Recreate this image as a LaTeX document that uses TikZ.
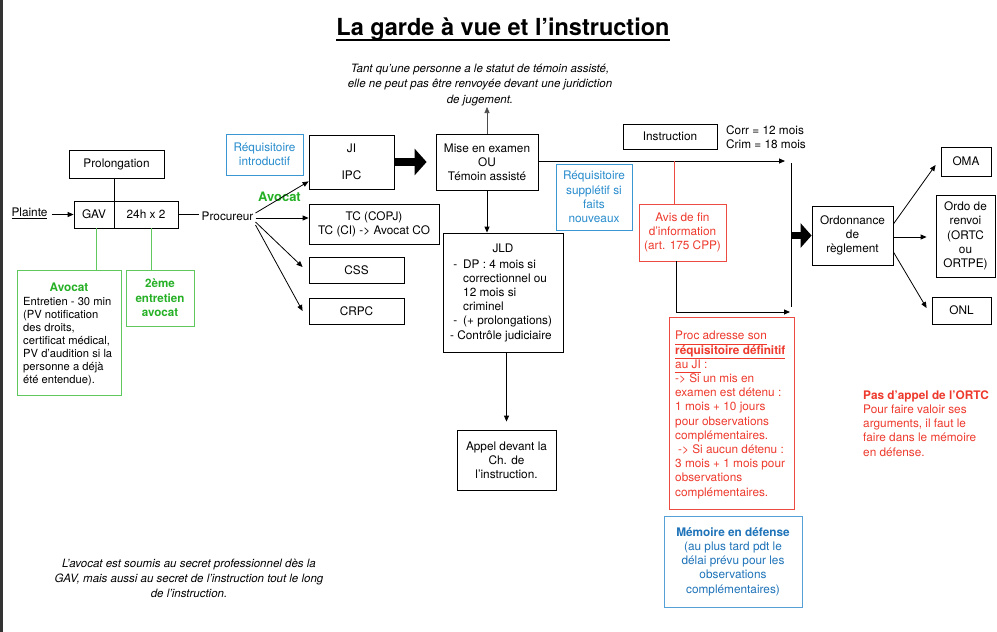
\documentclass[tikz,border=0pt]{standalone}
\usepackage{fontspec}
\setmainfont{TeX Gyre Heros}
\usetikzlibrary{arrows.meta,calc}
\definecolor{gtxt}{RGB}{38,176,38}
\definecolor{gline}{RGB}{95,200,95}
\definecolor{btxt}{RGB}{40,140,205}
\definecolor{bline}{RGB}{60,150,210}
\definecolor{btxtb}{RGB}{30,115,185}
\definecolor{blineb}{RGB}{85,160,215}
\definecolor{rtxt}{RGB}{238,58,45}
\definecolor{rline}{RGB}{235,75,65}
\newcommand\ulx[1]{\underline{#1\vphantom{g}}}
\begin{document}
\begin{tikzpicture}[x=1pt,y=-1pt, font=\fontsize{11.8}{14.2}\selectfont,
  bx/.style={draw=black, line width=0.8pt, inner sep=0pt, align=center},
  arr/.style={-{Triangle[length=6pt,width=5pt]}, line width=0.8pt},
  bigarr/.style={-{Triangle[length=12pt,width=26pt]}, line width=8pt},
  bigarrb/.style={-{Triangle[length=11pt,width=24pt]}, line width=7pt},
  ]
\useasboundingbox (0,0) rectangle (997,632);
\fill[white] (0,0) rectangle (997,632);
\fill[black!80] (0,0) rectangle (3,632);

% title
\node[font=\bfseries\fontsize{23.5}{28}\selectfont, anchor=base, inner sep=0] (title) at (503,35) {La garde à vue et l’instruction};
\draw[line width=1.8pt] ([yshift=-5pt]title.base west) -- ([yshift=-5pt]title.base east);

% top note
\node[font=\itshape\fontsize{11.5}{15.5}\selectfont, align=center, inner sep=0] (note1) at (480,85) {Tant qu’une personne a le statut de témoin assisté,\\elle ne peut pas être renvoyée devant une juridiction\\de jugement.};

% left part
\node[bx, minimum width=95pt, minimum height=28pt] (prol) at (116.5,164) {Prolongation};
\node[bx, minimum width=40pt, minimum height=27pt] (gav) at (94,214.5) {GAV};
\node[bx, minimum width=64pt, minimum height=27pt] (h24) at (146,214.5) {24h x 2};
\node[inner sep=1pt] (plainte) at (29.5,213) {\underline{Plainte}};
\draw[arr] ([xshift=3pt]plainte.east |- gav.west) -- (gav.west);
\draw[line width=0.8pt] (gav.north east |- prol.south) -- (gav.north east);
\node[inner sep=2pt] (proc) at (227.5,216) {Procureur};
\draw[line width=0.8pt] (h24.east) -- (h24.east -| proc.west);

\node[draw=gline, line width=0.8pt, minimum width=104pt, minimum height=125pt, inner sep=0] (avo) at (69,332.5) {};
\node[text=gtxt, font=\bfseries\fontsize{11.8}{14}\selectfont, inner sep=0] (avoh) at (69,287) {Avocat};
\node[anchor=west, align=left, inner sep=0, font=\fontsize{11.2}{13}\selectfont] (avob) at (23,341.3) {Entretien - 30 min\\(PV notification\\des droits,\\certificat médical,\\PV d’audition si la\\personne a déjà\\été entendue).};
\draw[gline, line width=0.8pt] ([xshift=2pt]gav.south) -- ([xshift=2pt]gav.south |- avo.north);
\node[draw=gline, line width=0.8pt, inner sep=0, minimum width=68pt, minimum height=56pt, text=gtxt, align=center, font=\bfseries\fontsize{11.6}{14.5}\selectfont] (e2) at (160,298) {2ème\\entretien\\avocat};
\draw[gline, line width=0.8pt] ([xshift=5pt]h24.south) -- ([xshift=5pt]h24.south |- e2.north);

% procureur targets
\node[bx, draw=bline, text=btxt, minimum width=77pt, minimum height=41pt] (reqi) at (264.5,154.5) {Réquisitoire\\introductif};
\node[bx, minimum width=85pt, minimum height=54pt] (ji) at (351.5,162) {JI\\[13pt]IPC};
\node[bx, minimum width=130pt, minimum height=40pt] (tc) at (374,224) {TC (COPJ)\\TC (CI) -> Avocat CO};
\node[bx, minimum width=95pt, minimum height=26pt] (css) at (356.5,270) {CSS};
\node[bx, minimum width=95pt, minimum height=26pt] (crpc) at (356.5,311) {CRPC};
\node[text=gtxt, font=\bfseries\fontsize{13}{15}\selectfont, inner sep=0] (avo2) at (279.5,197) {Avocat};
\draw[arr] ([yshift=3pt]proc.east) -- ([yshift=8pt]ji.south west);
\draw[arr] ([yshift=-2pt]proc.east) -- ([yshift=-2pt]proc.east -| tc.west);
\draw[arr] ([yshift=-6pt]proc.east) -- ([xshift=-6pt,yshift=3pt]css.west);
\draw[arr] ([yshift=-9pt]proc.east) -- ([xshift=-6pt]crpc.west);

% mise en examen
\node[bx, minimum width=102pt, minimum height=56pt] (mise) at (487,162) {Mise en examen\\OU\\Témoin assisté};
\draw[bigarr] (ji.east |- mise.west) -- ([xshift=-9pt]mise.west);
\coordinate (notep) at (487,107);
\draw[arr, black!70, line width=0.6pt] (mise.north) -- (notep);

% JLD
\node[bx, minimum width=120pt, minimum height=119pt] (jld) at (503,292.5) {};
\node[inner sep=0] (jldh) at (503,248) {JLD};
\node[anchor=west, align=left, inner sep=0] (jldb) at (450,300.5) {\makebox[13pt][l]{\ -}DP : 4 mois si\\\hspace*{13pt}correctionnel ou\\\hspace*{13pt}12 mois si\\\hspace*{13pt}criminel\\\makebox[13pt][l]{\ -}(+ prolongations)\\- Contrôle judiciaire};
\draw[arr] (mise.south) -- (mise.south |- jld.north);
\node[bx, minimum width=99pt, minimum height=60pt] (appel) at (506.5,460) {Appel devant la\\Ch. de\\l’instruction.};
\draw[arr, shorten >=8pt] (appel.north |- jld.south) -- (appel.north);

% instruction
\coordinate (h1e) at (785,161);
\draw[arr] ([yshift=1pt]mise.east) -- (h1e);
\node[bx, draw=bline, text=btxt, minimum width=76pt, minimum height=66pt] (reqs) at (594,197) {Réquisitoire\\supplétif si\\faits\\nouveaux};
\node[bx, minimum width=94pt, minimum height=25pt] (instr) at (670,136.5) {Instruction};
\node[anchor=west, align=left, inner sep=0] (corr) at (726,137) {Corr = 12 mois\\Crim = 18 mois};
\node[bx, draw=rline, text=rtxt, minimum width=87pt, minimum height=57pt] (avis) at (682.5,232.5) {Avis de fin\\d’information\\(art. 175 CPP)};
\coordinate (rt) at (674,161);
\draw[rline, line width=0.8pt] (rt) -- (rt |- avis.north);
\coordinate (vlt) at (791,163);
\coordinate (vlb) at (791,307);
\draw[line width=0.9pt] (vlt) -- (vlb);
\coordinate (h2e) at (790,312);
\draw[arr] ([xshift=-6.5pt]avis.south) |- (h2e);

% red box
\node[draw=rline, line width=0.8pt, minimum width=125pt, minimum height=192pt, inner sep=0] (redb) at (731.5,413) {};
\node[anchor=west, align=left, inner sep=0, text=rtxt] (redt) at (675,415) {\ulx{Proc adresse son}\\\ulx{\textbf{réquisitoire définitif}}\\\ulx{au JI} :\\-> Si un mis en\\examen est détenu :\\1 mois + 10 jours\\pour observations\\complémentaires.\\\hspace*{3pt}-> Si aucun détenu :\\3 mois + 1 mois pour\\observations\\complémentaires.};

% memoire
\node[draw=blineb, line width=0.8pt, minimum width=138pt, minimum height=91pt, inner sep=0, text=btxtb, align=center] (mem) at (733,561.5) {\textbf{Mémoire en défense}\\(au plus tard pdt le\\délai prévu pour les\\observations\\complémentaires)};

% ordonnance
\node[bx, minimum width=81pt, minimum height=59pt] (ordo) at (852.5,235.5) {Ordonnance\\de\\règlement};
\draw[bigarrb] (vlt |- ordo.west) -- (ordo.west);
\node[bx, minimum width=50pt, minimum height=29pt] (oma) at (966,161.5) {OMA};
\node[bx, minimum width=59pt, minimum height=82pt] (renvoi) at (965.5,236) {Ordo de\\renvoi\\(ORTC\\ou\\ORTPE)};
\node[bx, minimum width=59pt, minimum height=27pt] (onl) at (961.5,310.5) {ONL};
\draw[arr] ([yshift=11.5pt]ordo.east) -- ([xshift=-5pt,yshift=-3.5pt]oma.west);
\draw[arr] ([yshift=-1.5pt]ordo.east) -- ([xshift=-9pt,yshift=-1.5pt]ordo.east -| renvoi.west);
\draw[arr] ([yshift=-16.5pt]ordo.east) -- ([xshift=-5pt,yshift=2.5pt]onl.west);

% right note
\node[anchor=west, align=left, inner sep=0, text=rtxt] (ortc) at (863,423.5) {\textbf{Pas d’appel de l’ORTC}\\Pour faire valoir ses\\arguments, il faut le\\faire dans le mémoire\\en défense.};

% bottom note
\node[font=\itshape\fontsize{11.5}{15}\selectfont, align=center, inner sep=0] (secret) at (189,578) {L’avocat est soumis au secret professionnel dès la\\GAV, mais aussi au secret de l’instruction tout le long\\de l’instruction.};
\end{tikzpicture}
\end{document}
